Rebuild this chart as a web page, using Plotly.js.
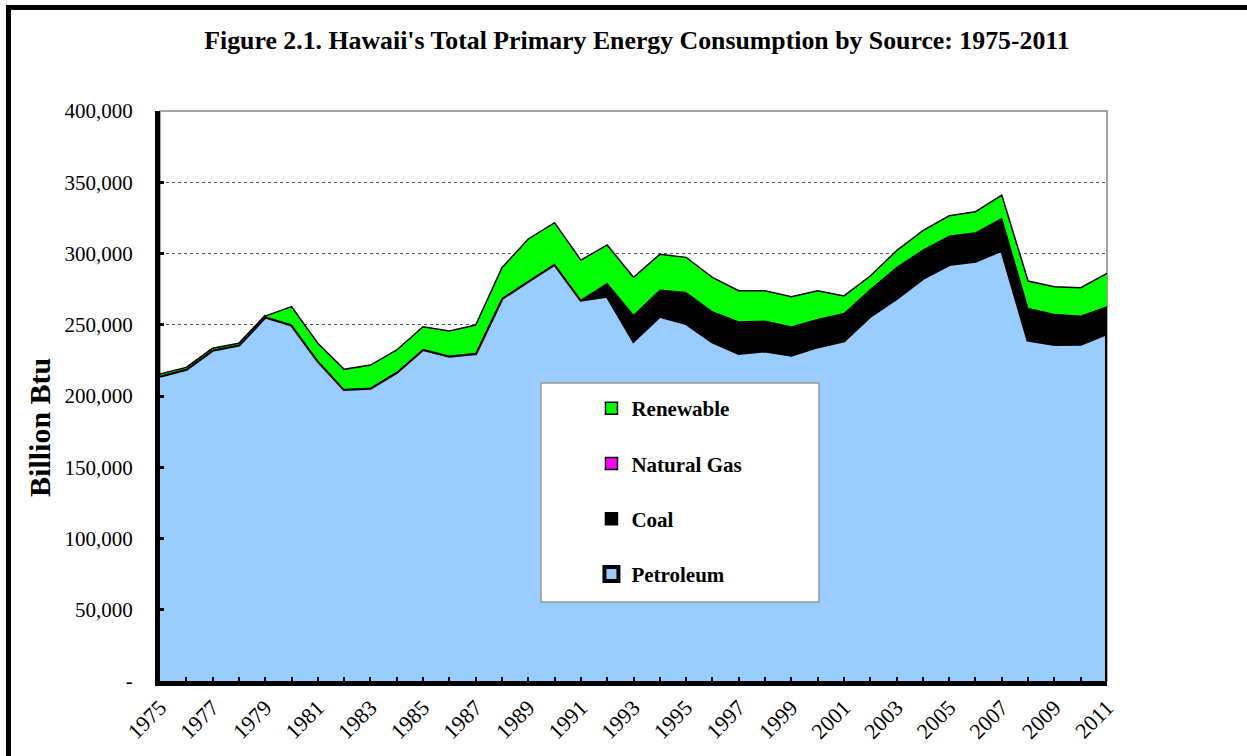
<!DOCTYPE html>
<html>
<head>
<meta charset="utf-8">
<script src="https://cdn.plot.ly/plotly-3.0.1.min.js"></script>
<style>
  html, body { margin: 0; padding: 0; background: #fff; }
  #chart { position: absolute; left: 0; top: 0; width: 1247px; height: 756px; }
  #frame { position: absolute; left: 6px; top: 5px; width: 1300px; height: 800px;
           border-top: 5px solid #000; border-left: 5px solid #000; pointer-events: none; }
</style>
</head>
<body>
<div id="chart"></div>
<div id="frame"></div>
<script>
const years = [1975,1976,1977,1978,1979,1980,1981,1982,1983,1984,1985,1986,1987,1988,1989,1990,1991,1992,1993,1994,1995,1996,1997,1998,1999,2000,2001,2002,2003,2004,2005,2006,2007,2008,2009,2010,2011];

const petroleum = [214000,218900,232300,235800,255600,250000,224800,204700,205600,216800,232800,228100,230000,268600,280700,292600,267400,270200,238800,256100,251000,238100,230000,231800,228800,234600,238800,256100,268600,282600,292400,294700,302500,239300,236300,236500,244000];

const coal = [0,0,0,0,0,0,0,0,0,0,0,0,0,0,0,0,0,8900,18000,18300,21700,21100,22100,20800,19800,19200,19200,18800,21700,19900,19900,19900,22200,22200,21000,19600,18700];

const naturalGas = [0,0,0,0,0,0,0,0,0,0,0,0,0,0,0,0,0,0,0,0,0,0,0,0,0,0,0,0,0,0,0,0,0,0,0,0,0];

const renewable = [1400,1200,1200,1200,500,12700,12200,14000,16100,15500,15800,17500,19800,21400,29500,29000,28000,26900,26500,25000,24600,24100,21800,21300,21100,20100,12200,9300,11700,13500,14200,14700,16300,19200,19400,19900,23400];

const seriesNames = ['Petroleum', 'Coal', 'Natural Gas', 'Renewable'];
const seriesColors = ['#99CCFF', '#000000', '#FF00FF', '#00FF00'];

const yTickVals = [0,50000,100000,150000,200000,250000,300000,350000,400000];
const yTickText = ['-','50,000','100,000','150,000','200,000','250,000','300,000','350,000','400,000'];
const xTickText = years.map((y, i) => (i % 2 === 0 ? String(y) : ''));

const serif = '"Liberation Serif", "Times New Roman", serif';

const seriesData = [petroleum, coal, naturalGas, renewable];
const lineWidths = [3.5, 1, 1, 1.5];

const areaTraces = seriesData.map((vals, i) => ({
  name: seriesNames[i], x: years, y: vals, stackgroup: 'one', mode: 'lines',
  fillcolor: seriesColors[i], line: {color: '#000', width: lineWidths[i]}, showlegend: false
}));

// legend-only entries (no data points), ordered top to bottom like the original key
const legendTraces = [3, 2, 1, 0].map((i, k) => ({
  name: '<b>' + seriesNames[i] + '</b>', x: [null], y: [null], type: 'scatter', mode: 'markers',
  legendgroup: 'g' + k, legendrank: k + 1,
  marker: {symbol: 'square', size: i === 0 ? 14 : 12, color: seriesColors[i],
           line: {color: '#000', width: i === 0 ? 4 : 1.5}}
}));

const layout = {
  width: 1247, height: 756,
  margin: {l: 160, r: 140, t: 111, b: 75},
  paper_bgcolor: '#fff', plot_bgcolor: '#fff',
  font: {family: serif, color: '#000'},
  title: {text: "<b>Figure 2.1. Hawaii's Total Primary Energy Consumption by Source: 1975-2011</b>",
          font: {family: serif, size: 25.8, color: '#000'},
          x: 0.5037, xref: 'paper', xanchor: 'center', y: 0.947, yref: 'container', yanchor: 'middle'},
  xaxis: {range: [1975, 2011], tickmode: 'array', tickvals: years, ticktext: xTickText,
          tickangle: -45, ticks: 'inside', ticklen: 4, tickwidth: 2, tickcolor: '#000',
          showline: true, linecolor: '#000', linewidth: 5, showgrid: false, zeroline: false,
          ticklabelstandoff: 0,
          tickfont: {family: serif, size: 22, color: '#000'}, fixedrange: true},
  yaxis: {range: [0, 400000], tickmode: 'array', tickvals: yTickVals, ticktext: yTickText,
          ticks: 'inside', ticklen: 4, tickwidth: 3, tickcolor: '#000',
          showline: true, linecolor: '#000', linewidth: 5,
          showgrid: true, gridcolor: '#555', griddash: 'dot', gridwidth: 1, zeroline: false,
          ticklabelstandoff: 18,
          tickfont: {family: serif, size: 21, color: '#000'},
          fixedrange: true},
  annotations: [
    {text: '<b>Billion Btu</b>', xref: 'paper', yref: 'paper', x: -0.1267, y: 0.444,
     xanchor: 'center', yanchor: 'middle', textangle: -90, showarrow: false,
     font: {family: serif, size: 30, color: '#000'}}
  ],
  showlegend: true,
  legend: {x: 0.4556, xanchor: 'left', y: 0.514, yanchor: 'top', bgcolor: 'rgba(0,0,0,0)',
           borderwidth: 0, traceorder: 'grouped', tracegroupgap: 25, itemwidth: 30,
           font: {family: serif, size: 21, color: '#000'}},
  shapes: [
    {type: 'rect', xref: 'paper', yref: 'paper', x0: 0, x1: 1, y0: 0, y1: 1,
     line: {color: '#888', width: 1.5}, fillcolor: 'rgba(0,0,0,0)', layer: 'below'},
    {type: 'rect', xref: 'paper', yref: 'paper', x0: 0.4023, x1: 0.6959, y0: 0.1386, y1: 0.5228,
     line: {color: '#999', width: 1.5}, fillcolor: '#fff', layer: 'above'},
    {type: 'line', xref: 'x', yref: 'y', x0: years[years.length - 1], x1: years[years.length - 1],
     y0: 0, y1: petroleum[petroleum.length - 1], line: {color: '#000', width: 4}, layer: 'above'}
  ]
};

Plotly.newPlot('chart', areaTraces.concat(legendTraces), layout, {displayModeBar: false, staticPlot: true});
</script>
</body>
</html>
